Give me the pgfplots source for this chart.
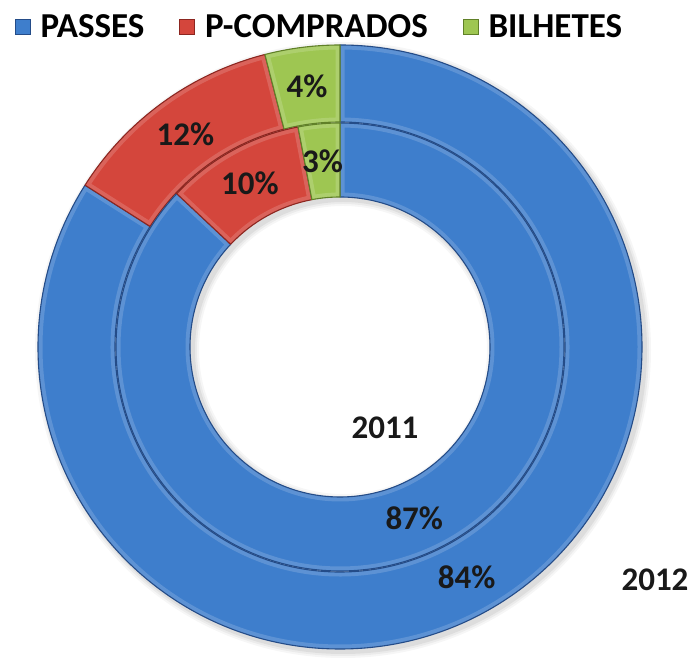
\documentclass[border=0pt]{standalone}
\usepackage{pgfplots}
\usepackage{pgfplotstable}
\pgfplotsset{compat=1.18}
\usetikzlibrary{calc}
\usepackage{fontspec}
\setmainfont{Carlito}
\definecolor{cBlue}{RGB}{62,126,204}
\definecolor{cBlueD}{RGB}{36,76,136}
\definecolor{cRed}{RGB}{212,70,60}
\definecolor{cRedD}{RGB}{140,38,32}
\definecolor{cGreen}{RGB}{158,198,82}
\definecolor{cGreenD}{RGB}{96,128,40}

\pgfplotstableread{
cat p2011 p2012
PASSES 87 84
P-COMPRADOS 10 12
BILHETES 3 4
}\pietable

% #1 start angle, #2 end angle, #3 inner radius, #4 outer radius, #5 fill, #6 edge
\newcommand\ringwedge[6]{%
  \begin{scope}
    \clip (axis cs:340,303) ++(#1:#4pt) arc[start angle=#1,end angle=#2,radius=#4pt] -- ++(#2:{#3pt-#4pt}) arc[start angle=#2,end angle=#1,radius=#3pt] -- cycle;
    \fill[#5] (axis cs:0,0) rectangle (axis cs:696,650);
    \draw[white,opacity=0.16,line width=9pt] (axis cs:340,303) ++(#1:#4pt) arc[start angle=#1,end angle=#2,radius=#4pt] -- ++(#2:{#3pt-#4pt}) arc[start angle=#2,end angle=#1,radius=#3pt] -- cycle;
  \end{scope}
  \draw[#6,line width=1.1pt,line join=round] (axis cs:340,303) ++(#1:#4pt) arc[start angle=#1,end angle=#2,radius=#4pt] -- ++(#2:{#3pt-#4pt}) arc[start angle=#2,end angle=#1,radius=#3pt] -- cycle;
}
\newcommand\shadowring[2]{%
  \fill[black,opacity=#2,even odd rule] (axis cs:343,300) circle[radius=#1pt] (axis cs:343,300) circle[radius={(452-#1)*1pt}];
}

\begin{document}
\begin{tikzpicture}
\pgfplotstablegetelem{0}{p2012}\of\pietable \edef\oA{\pgfplotsretval}
\pgfplotstablegetelem{1}{p2012}\of\pietable \edef\oB{\pgfplotsretval}
\pgfplotstablegetelem{2}{p2012}\of\pietable \edef\oC{\pgfplotsretval}
\pgfplotstablegetelem{0}{p2011}\of\pietable \edef\iA{\pgfplotsretval}
\pgfplotstablegetelem{1}{p2011}\of\pietable \edef\iB{\pgfplotsretval}
\pgfplotstablegetelem{2}{p2011}\of\pietable \edef\iC{\pgfplotsretval}
% outer ring (2012) angles, clockwise from top
\pgfmathsetmacro\oEa{90-3.6*\oA}
\pgfmathsetmacro\oEb{\oEa-3.6*\oB}
\pgfmathsetmacro\oEc{\oEb-3.6*\oC}
\pgfmathsetmacro\oMa{(90+\oEa)/2}
\pgfmathsetmacro\oMb{(\oEa+\oEb)/2}
\pgfmathsetmacro\oMc{(\oEb+\oEc)/2}
% inner ring (2011)
\pgfmathsetmacro\iEa{90-3.6*\iA}
\pgfmathsetmacro\iEb{\iEa-3.6*\iB}
\pgfmathsetmacro\iEc{\iEb-3.6*\iC}
\pgfmathsetmacro\iMa{(90+\iEa)/2}
\pgfmathsetmacro\iMb{(\iEa+\iEb)/2}
\pgfmathsetmacro\iMc{(\iEb+\iEc)/2}
\begin{axis}[
  scale only axis, width=696pt, height=650pt,
  xmin=0, xmax=696, ymin=0, ymax=650,
  enlargelimits=false, hide axis, clip=false,
  legend columns=3,
  legend image code/.code={\draw[#1,line width=0.6pt] (0pt,-8pt) rectangle (15pt,7pt);},
  legend style={at={(0.017,0.959)}, anchor=west, draw=none, fill=none,
    font=\fontsize{35}{40}\selectfont\bfseries,
    nodes={inner sep=0pt, anchor=west},
    /tikz/every odd column/.append style={column sep=10pt},
    /tikz/every even column/.append style={column sep=35pt}},
]
\path (rel axis cs:0,0) rectangle (rel axis cs:1,1);
\addlegendimage{fill=cBlue, draw=cBlueD}
\addlegendentry{PASSES}
\addlegendimage{fill=cRed, draw=cRedD}
\addlegendentry{P-COMPRADOS}
\addlegendimage{fill=cGreen, draw=cGreenD}
\addlegendentry{BILHETES}
% soft shadow
\shadowring{308}{0.035}
\shadowring{306}{0.045}
\shadowring{304}{0.06}
% outer ring 2012
\ringwedge{90}{\oEa}{225}{302}{cBlue}{cBlueD}
\ringwedge{\oEa}{\oEb}{225}{302}{cRed}{cRedD}
\ringwedge{\oEb}{\oEc}{225}{302}{cGreen}{cGreenD}
% inner ring 2011
\ringwedge{90}{\iEa}{150}{224}{cBlue}{cBlueD}
\ringwedge{\iEa}{\iEb}{150}{224}{cRed}{cRedD}
\ringwedge{\iEb}{\iEc}{150}{224}{cGreen}{cGreenD}
% labels
\node[font=\fontsize{33}{38}\selectfont\bfseries, text=black!90] at ($(axis cs:340,303)+(\oMa:263pt)$) {\oA\%};
\node[font=\fontsize{33}{38}\selectfont\bfseries, text=black!90] at ($(axis cs:340,303)+(\oMb:263pt)$) {\oB\%};
\node[font=\fontsize{33}{38}\selectfont\bfseries, text=black!90] at ($(axis cs:340,303)+(\oMc:263pt)$) {\oC\%};
\node[font=\fontsize{33}{38}\selectfont\bfseries, text=black!90] at ($(axis cs:340,303)+(\iMa:187pt)$) {\iA\%};
\node[font=\fontsize{33}{38}\selectfont\bfseries, text=black!90] at ($(axis cs:340,303)+(\iMb:187pt)$) {\iB\%};
\node[font=\fontsize{33}{38}\selectfont\bfseries, text=black!90] at ($(axis cs:340,303)+(\iMc:187pt)$) {\iC\%};
\node[font=\fontsize{33}{38}\selectfont\bfseries, text=black!90] at (axis cs:385,222) {2011};
\node[font=\fontsize{33}{38}\selectfont\bfseries, text=black!90] at (axis cs:655,70) {2012};
\end{axis}
\end{tikzpicture}
\end{document}
